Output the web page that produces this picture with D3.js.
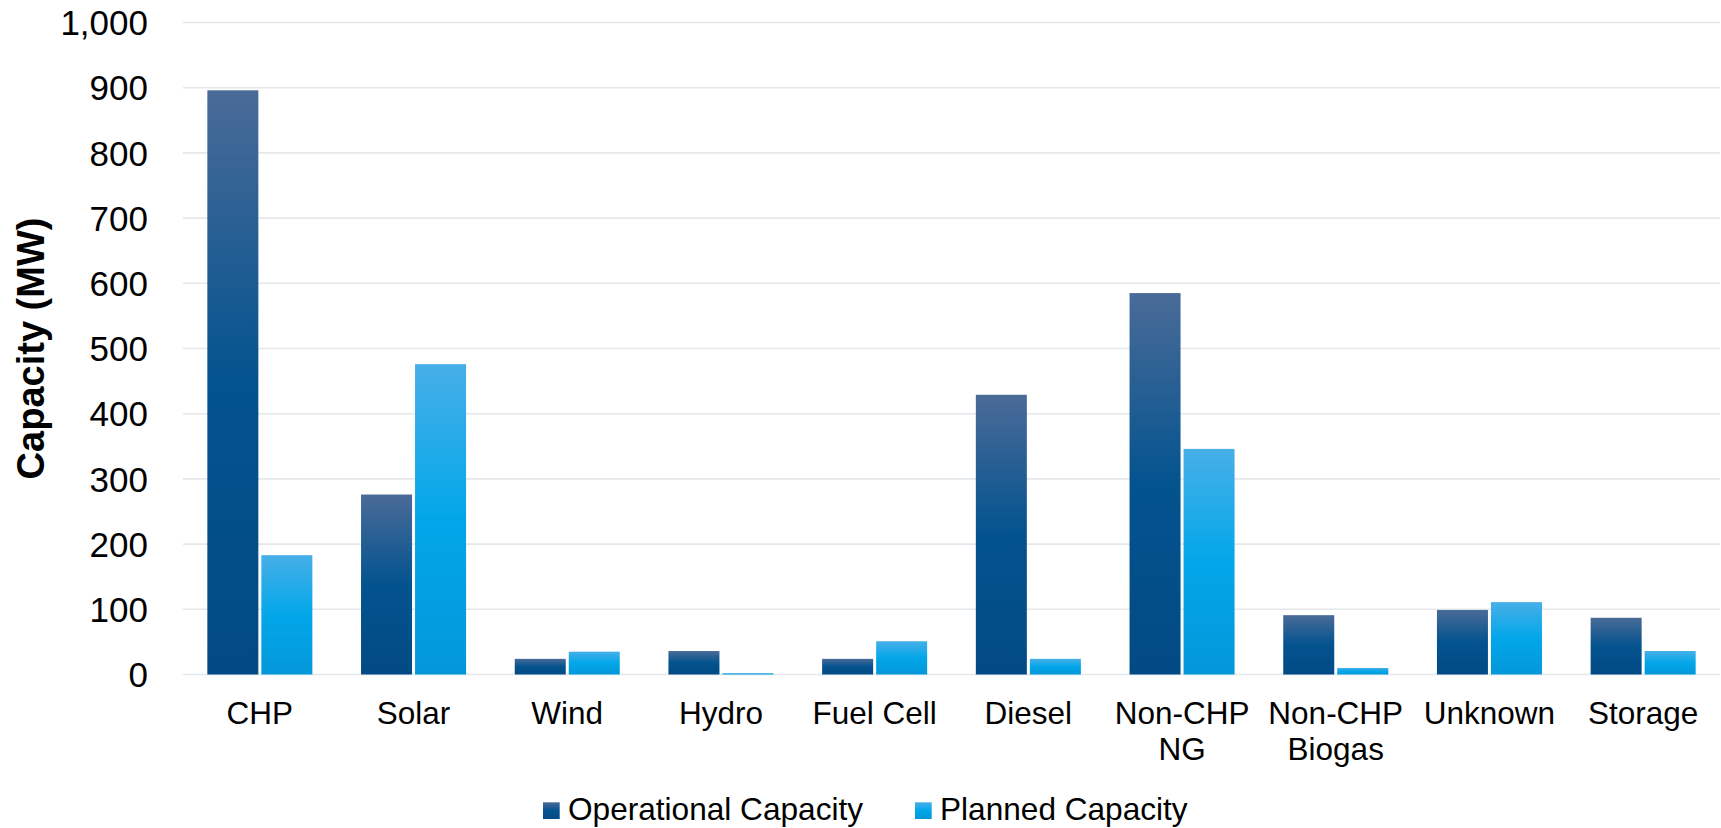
<!DOCTYPE html>
<html>
<head>
<meta charset="utf-8">
<script src="https://cdn.jsdelivr.net/npm/d3@7"></script>
<style>
  html, body { margin: 0; padding: 0; background: #fff; }
  svg { display: block; font-family: "Liberation Sans", Arial, sans-serif; }
</style>
</head>
<body>
<svg id="chart" width="1721" height="828"></svg>
<script>
// Distributed generation capacity by technology (MW)
const categories = ["CHP", "Solar", "Wind", "Hydro", "Fuel Cell", "Diesel", "Non-CHP NG", "Non-CHP Biogas", "Unknown", "Storage"];
const categoryLines = [["CHP"], ["Solar"], ["Wind"], ["Hydro"], ["Fuel Cell"], ["Diesel"], ["Non-CHP", "NG"], ["Non-CHP", "Biogas"], ["Unknown"], ["Storage"]];
const seriesNames = ["Operational Capacity", "Planned Capacity"];
const operational = [896, 276, 24, 36, 24, 429, 585, 91, 99, 87];
const planned = [183, 476, 35, 2, 51, 24, 346, 10, 111, 36];
const yTicks = [0, 100, 200, 300, 400, 500, 600, 700, 800, 900, 1000];

const svg = d3.select("#chart");
const plot = { left: 183, right: 1720, top: 22.5, bottom: 674.5 };

// gradients for each series (top lighter, bottom deeper)
const defs = svg.append("defs");
const gradStops = [
  [["0%", "#4a6b98"], ["50%", "#03538f"], ["100%", "#024a85"]],
  [["0%", "#47afe8"], ["50%", "#02a7e9"], ["100%", "#0397da"]]
];
gradStops.forEach((stops, i) => {
  const g = defs.append("linearGradient").attr("id", "grad" + i)
    .attr("x1", 0).attr("y1", 0).attr("x2", 0).attr("y2", 1);
  stops.forEach(s => g.append("stop").attr("offset", s[0]).attr("stop-color", s[1]));
});

const x0 = d3.scaleBand().domain(categories)
  .range([plot.left, plot.right])
  .paddingInner(0.3167).paddingOuter(0.3167 / 2);
const x1 = d3.scaleBand().domain(seriesNames)
  .range([0, x0.bandwidth()])
  .paddingInner(0.0556).paddingOuter(0);
const y = d3.scaleLinear().domain([0, 1000]).range([plot.bottom, plot.top]);

// horizontal gridlines
svg.append("g").selectAll("line").data(yTicks).join("line")
  .attr("x1", plot.left).attr("x2", plot.right)
  .attr("y1", d => y(d)).attr("y2", d => y(d))
  .attr("stroke", "#e4e8eb").attr("stroke-width", 1.6);

// y axis tick labels
const yAxis = d3.axisLeft(y).tickValues(yTicks).tickFormat(d3.format(",")).tickSize(0).tickPadding(0);
const yg = svg.append("g").attr("transform", "translate(148,0)").call(yAxis);
yg.select(".domain").remove();
yg.selectAll("text").attr("font-size", 35).attr("fill", "#000")
  .attr("font-family", "'Liberation Sans', Arial, sans-serif").attr("dy", "0.35em");

// y axis title
svg.append("text")
  .attr("transform", `translate(44,${(plot.top + plot.bottom) / 2}) rotate(-90)`)
  .attr("text-anchor", "middle").attr("font-size", 38).attr("font-weight", "bold")
  .attr("fill", "#000").text("Capacity (MW)");

// bars
const rows = categories.map((c, i) => ({ cat: c, vals: [operational[i], planned[i]] }));
const groups = svg.append("g").selectAll("g").data(rows).join("g")
  .attr("transform", d => `translate(${x0(d.cat)},0)`);
groups.selectAll("rect").data(d => d.vals.map((v, k) => ({ v, k })))
  .join("rect")
  .attr("x", d => x1(seriesNames[d.k]))
  .attr("width", x1.bandwidth())
  .attr("y", d => y(d.v))
  .attr("height", d => y(0) - y(d.v))
  .attr("fill", d => `url(#grad${d.k})`);

// x category labels
const xl = svg.append("g").selectAll("text").data(categories).join("text")
  .attr("x", d => x0(d) + x0.bandwidth() / 2)
  .attr("y", 724)
  .attr("text-anchor", "middle").attr("font-size", 31.5).attr("fill", "#000");
xl.each(function (d, i) {
  const t = d3.select(this);
  categoryLines[i].forEach((line, j) => {
    t.append("tspan").attr("x", x0(d) + x0.bandwidth() / 2)
      .attr("dy", j === 0 ? 0 : 36.4).text(line);
  });
});

// legend
const legendX = [543, 915];
const lg = svg.append("g").selectAll("g").data(seriesNames).join("g")
  .attr("transform", (d, i) => `translate(${legendX[i]},0)`);
lg.append("rect").attr("x", 0).attr("y", 802.3).attr("width", 16.7).attr("height", 16.7)
  .attr("fill", (d, i) => `url(#grad${i})`);
lg.append("text").attr("x", 25).attr("y", 819.5).attr("font-size", 31.6)
  .attr("fill", "#000").text(d => d);
</script>
</body>
</html>
